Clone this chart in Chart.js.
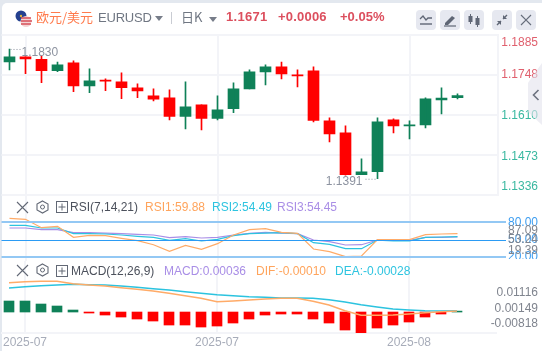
<!DOCTYPE html>
<html lang="zh">
<head>
  <meta charset="UTF-8" />
  <title>EURUSD</title>
  <script src="https://cdn.jsdelivr.net/npm/chart.js"></script>
  <style>
    html, body { margin: 0; padding: 0; background: #e3e8ef; }
    body { width: 542px; height: 351px; position: relative; overflow: hidden; font-family: "Liberation Sans", Arial, sans-serif; }
    #card { position: absolute; left: 2px; top: 3px; width: 540px; height: 348px; background: #fff; border-top-left-radius: 5px; }
    canvas { position: absolute; left: 0; display: block; }
    .t { position: absolute; white-space: nowrap; font-size: 12px; line-height: 14px; }
    .btn { position: absolute; top: 10px; width: 20px; height: 20px; border-radius: 4px; background: #e6e8f0; }
    .btn svg, .ic { position: absolute; }
    #tab { position: absolute; left: 528px; top: 63px; width: 14px; height: 62px; background: rgba(226,227,236,.6);
      clip-path: polygon(100% 0, 0 32%, 0 79%, 100% 100%); }
  </style>
</head>
<body>
  <div id="card"></div>
  <canvas id="mainChart" width="542" height="197" style="top:0"></canvas>
  <canvas id="rsiChart" width="542" height="66" style="top:195px"></canvas>
  <canvas id="macdChart" width="542" height="91" style="top:260px"></canvas>

  <!-- header -->
  <svg class="ic" style="left:15px;top:10px" width="18" height="18">
    <circle cx="6" cy="6" r="5.5" fill="#24408f"/>
    <circle cx="11" cy="11.5" r="5.5" fill="#f3d3d3"/>
    <path d="M6 8h10M6 11h11M6 14h10" stroke="#d8505a" stroke-width="1.3"/>
    <circle cx="6" cy="6" r="1.2" fill="#d9b53c"/>
  </svg>
  <div class="t" style="left:36px;top:9px;font:13px/16px 'Noto Sans CJK SC';color:#ff7b4d">欧元/美元</div>
  <div class="t" style="left:98px;top:11px;font-size:13px;color:#6f7682;letter-spacing:-.2px">EURUSD</div>
  <svg class="ic" style="left:155px;top:16px" width="8" height="5"><path d="M0 0h8L4 5z" fill="#777d89"/></svg>
  <div style="position:absolute;left:171px;top:12px;width:1px;height:12px;background:#c9ccd3"></div>
  <div class="t" style="left:181px;top:9px;font:13px/16px 'Noto Sans CJK SC';color:#6f7682">日K</div>
  <svg class="ic" style="left:209px;top:17px" width="8" height="5"><path d="M0 0h8L4 5z" fill="#777d89"/></svg>
  <div class="t" style="left:226px;top:10px;font-size:13px;font-weight:bold;color:#dc4f5e;letter-spacing:.3px">1.1671</div>
  <div class="t" style="left:278px;top:10px;font-size:13px;font-weight:bold;color:#dc4f5e;letter-spacing:.2px">+0.0006</div>
  <div class="t" style="left:340px;top:10px;font-size:13px;font-weight:bold;color:#dc4f5e">+0.05%</div>

  <div class="btn" style="left:416px"><svg width="20" height="20"><path d="M4 9l3-3 3 4 2-2h4" fill="none" stroke="#5f6675" stroke-width="1.3"/><path d="M4 14h12" stroke="#5f6675" stroke-width="1.4"/></svg></div>
  <div class="btn" style="left:440px"><svg width="20" height="20"><path d="M5 13l7-7 3 2-7 7H5z" fill="#5f6675"/><path d="M4 16h12" stroke="#5f6675" stroke-width="1.2"/></svg></div>
  <div class="btn" style="left:464px"><svg width="20" height="20"><path d="M6.5 4v10M13.5 6v11" stroke="#5f6675"/><rect x="4.5" y="6" width="4" height="6" fill="#5f6675"/><rect x="11.5" y="8" width="4" height="7" fill="#5f6675"/></svg></div>
  <div class="btn" style="left:492px"><svg width="20" height="20"><path d="M15 5l-4 4M5 15l4-4" stroke="#5f6675" stroke-width="1.4"/><path d="M11 5v4h4M5 11h4v4z" fill="#5f6675"/></svg></div>
  <div class="btn" style="left:516px"><svg width="20" height="20"><path d="M5 5l10 10M15 5L5 15" stroke="#666d7b" stroke-width="1.2"/></svg></div>

  <!-- RSI legend -->
  <svg class="ic" style="left:16px;top:201px" width="13" height="13"><path d="M1 1l11 11M12 1L1 12" stroke="#626875" stroke-width="1.1"/></svg>
  <svg class="ic" style="left:36px;top:200px" width="13" height="14"><path d="M6.5 1l5.5 3v6l-5.5 3L1 10V4z" fill="none" stroke="#626875" stroke-width="1.1"/><circle cx="6.5" cy="7" r="2" fill="none" stroke="#626875"/></svg>
  <svg class="ic" style="left:56px;top:201px" width="12" height="12"><rect x=".5" y=".5" width="11" height="11" fill="none" stroke="#626875"/><path d="M6 2.5v7M2.500 6h7" stroke="#626875"/></svg>
  <div class="t" style="left:70px;top:200px;color:#4c515c">RSI(7,14,21)</div>
  <div class="t" style="left:145px;top:200px;color:#ffa45c">RSI1:59.88</div>
  <div class="t" style="left:212px;top:200px;color:#2ec4e0">RSI2:54.49</div>
  <div class="t" style="left:277px;top:200px;color:#a98ee6">RSI3:54.45</div>

  <!-- MACD legend -->
  <svg class="ic" style="left:16px;top:264px" width="13" height="13"><path d="M1 1l11 11M12 1L1 12" stroke="#626875" stroke-width="1.1"/></svg>
  <svg class="ic" style="left:36px;top:263px" width="13" height="14"><path d="M6.5 1l5.5 3v6l-5.5 3L1 10V4z" fill="none" stroke="#626875" stroke-width="1.1"/><circle cx="6.5" cy="7" r="2" fill="none" stroke="#626875"/></svg>
  <svg class="ic" style="left:56px;top:265px" width="12" height="12"><rect x=".5" y=".5" width="11" height="11" fill="none" stroke="#626875"/><path d="M6 2.500v7M2.500 6h7" stroke="#626875"/></svg>
  <div class="t" style="left:71px;top:264px;color:#4c515c">MACD(12,26,9)</div>
  <div class="t" style="left:164px;top:264px;color:#a98ee6">MACD:0.00036</div>
  <div class="t" style="left:256px;top:264px;color:#ffa45c">DIF:-0.00010</div>
  <div class="t" style="left:335px;top:264px;color:#2ec4e0">DEA:-0.00028</div>

  <div id="tab"></div>
  <svg class="ic" style="left:532px;top:89px" width="8" height="12"><path d="M6.500 1L1.500 6l5 5" fill="none" stroke="#6d7380" stroke-width="1.6"/></svg>

  <script>
    // x positions: 29 days plus two empty slots on the right
    const dates = ['', '2025-07', '', '', '', '', '', '', '', '', '', '', '', '2025-07', '', '', '', '', '', '', '', '', '', '', '', '2025-08', '', '', '', '', ''];

    const opens = [1.17925, 1.18097, 1.18018, 1.17628, 1.17891, 1.17103, 1.17299, 1.1724, 1.17035, 1.16761, 1.16692, 1.16052, 1.16453, 1.15984, 1.16326, 1.17001, 1.17583, 1.17754, 1.1748, 1.17617, 1.15905, 1.15494, 1.14055, 1.14158, 1.15939, 1.15733, 1.15768, 1.16624, 1.16703];
    const closes = [1.18097, 1.18028, 1.17628, 1.17823, 1.17103, 1.17275, 1.17264, 1.17045, 1.16932, 1.16648, 1.16052, 1.16384, 1.15984, 1.16281, 1.17001, 1.17583, 1.17754, 1.17514, 1.17446, 1.15915, 1.15459, 1.14055, 1.14158, 1.1587, 1.15733, 1.15768, 1.16658, 1.16682, 1.16771];
    const highs = [1.18371, 1.18097, 1.18131, 1.17925, 1.1796, 1.17686, 1.17343, 1.17549, 1.17172, 1.17001, 1.16966, 1.1724, 1.16453, 1.16761, 1.17206, 1.17651, 1.17823, 1.17925, 1.17651, 1.17754, 1.16007, 1.15733, 1.14603, 1.16007, 1.15973, 1.15905, 1.16692, 1.17035, 1.16829];
    const lows = [1.17651, 1.17525, 1.17217, 1.17593, 1.16908, 1.16874, 1.16943, 1.16669, 1.16703, 1.1659, 1.15939, 1.15631, 1.15596, 1.15939, 1.16189, 1.17001, 1.17138, 1.17343, 1.17069, 1.1587, 1.15185, 1.14038, 1.14055, 1.13918, 1.15494, 1.15288, 1.15665, 1.16144, 1.16658];
    const priceTicks = [1.1885, 1.1748, 1.1610, 1.1473, 1.1336];
    const highLabel = '1.1830', lowLabel = '1.1391';

    const rsi1 = [86.9, 85.2, 70.8, 73.1, 54.0, 57.5, 56.9, 52.3, 48.3, 41.3, 29.8, 40.2, 33.3, 43.1, 58.1, 67.3, 69.0, 62.7, 61.0, 33.8, 29.2, 20.6, 21.7, 50.0, 50.0, 50.0, 58.7, 59.8, 60.5];
    const rsi2 = [74.8, 74.8, 70.2, 70.2, 60.4, 60.4, 59.8, 58.1, 55.8, 54.0, 48.8, 51.7, 47.7, 50.6, 56.9, 60.4, 61.5, 62.1, 60.4, 44.8, 41.9, 34.4, 34.4, 49.4, 47.7, 47.7, 54.0, 54.6, 55.2];
    const rsi3 = [70.2, 70.2, 67.3, 67.3, 62.1, 62.1, 61.5, 60.4, 59.2, 58.1, 53.5, 55.2, 52.9, 54.0, 58.1, 61.0, 62.7, 61.5, 60.4, 49.4, 46.5, 40.8, 41.3, 49.4, 48.8, 48.8, 54.0, 54.0, 54.6];
    const rsiLevels = [80, 50, 20];
    const rsiTicks = [87.09, 53.24, 19.39];

    const macdHist = [0.00429, 0.00429, 0.00312, 0.00234, 0.00078, -0.00039, -0.00117, -0.00195, -0.00273, -0.00351, -0.00507, -0.00507, -0.00585, -0.00546, -0.00429, -0.00273, -0.00117, -0.00078, -0.00078, -0.00273, -0.00429, -0.00702, -0.00818, -0.00624, -0.00507, -0.0039, -0.00195, -0.00078, 0.00036];
    const dif = [0.01143, 0.01182, 0.01197, 0.01197, 0.01104, 0.01053, 0.01014, 0.00948, 0.00885, 0.00819, 0.00729, 0.00636, 0.00534, 0.00402, 0.00429, 0.00468, 0.00507, 0.00534, 0.00534, 0.00417, 0.00273, 0.00051, -0.00129, -0.00129, -0.00117, -0.00078, -0.00027, 0.00012, 0.00039];
    const dea = [0.00936, 0.00987, 0.01026, 0.01053, 0.0108, 0.01065, 0.01053, 0.01014, 0.00963, 0.00909, 0.00858, 0.00792, 0.00729, 0.00675, 0.00636, 0.00597, 0.00573, 0.00546, 0.00546, 0.00534, 0.0048, 0.0039, 0.00285, 0.00195, 0.00117, 0.00078, 0.00051, 0.00039, 0.00051];
    const macdTicks = [0.01116, 0.00149, -0.00818];

    const UP = '#0f8158', DOWN = '#ff0000', GRID = '#f3f4f8', FONT = '12px "Liberation Sans", Arial, sans-serif';
    const ORANGE = '#ffab68', CYAN = '#2cc3df', PURPLE = '#a98ee6';
    const candleColor = closes.map((c, i) => c >= opens[i] ? UP : DOWN);

    // right hand labels; they get pushed inward near the pane edges so a scale tick can't do it
    const axisLabels = {
      id: 'axisLabels',
      afterDraw(chart, args, opts) {
        const { ctx, scales: { y } } = chart;
        ctx.save();
        ctx.font = FONT;
        ctx.textAlign = 'right';
        ctx.textBaseline = 'middle';
        opts.values.forEach((v, i) => {
          ctx.fillStyle = typeof opts.color === 'function' ? opts.color(v) : opts.color;
          ctx.fillText(v.toFixed(opts.digits), 538, y.getPixelForValue(v) + opts.shift[i]);
        });
        ctx.restore();
      }
    };

    // highest / lowest price tags
    const extremes = {
      id: 'extremes',
      afterDatasetsDraw(chart) {
        const { ctx, scales: { x, y } } = chart;
        const hi = highs.indexOf(Math.max(...highs)), lo = lows.indexOf(Math.min(...lows));
        const hx = x.getPixelForValue(hi), hy = y.getPixelForValue(highs[hi]);
        const lx = x.getPixelForValue(lo), ly = y.getPixelForValue(lows[lo]);
        ctx.save();
        ctx.font = FONT;
        ctx.fillStyle = '#8d93a0';
        ctx.textBaseline = 'middle';
        ctx.textAlign = 'left';
        ctx.fillText(highLabel, hx + 12, hy + 4);
        ctx.textAlign = 'right';
        ctx.fillText(lowLabel, lx - 15, ly + 3);
        ctx.strokeStyle = '#8d93a0';
        ctx.setLineDash([1, 2]);
        ctx.beginPath();
        ctx.moveTo(hx + 1, hy + .5); ctx.lineTo(hx + 11, hy + .5);
        ctx.moveTo(lx - 12, ly + .5); ctx.lineTo(lx, ly + .5);
        ctx.stroke();
        ctx.restore();
      }
    };

    // the 80/50/20 guides of the RSI pane run past the plot area
    const rsiGuides = {
      id: 'rsiGuides',
      afterDraw(chart) {
        const { ctx, chartArea, scales: { y } } = chart;
        ctx.save();
        rsiLevels.forEach(v => {
          const py = Math.round(y.getPixelForValue(v));
          ctx.strokeStyle = v === 50 ? '#2b9bf4' : '#93c8f4';
          ctx.lineWidth = v === 50 ? 1 : 2;
          ctx.beginPath();
          ctx.moveTo(chartArea.left, py + (v === 50 ? .5 : 0));
          ctx.lineTo(506, py + (v === 50 ? .5 : 0));
          ctx.stroke();
        });
        ctx.beginPath();
        ctx.rect(500, 0, 42, 64);
        ctx.clip();
        ctx.font = FONT;
        ctx.textAlign = 'right';
        ctx.textBaseline = 'middle';
        ctx.fillStyle = '#3d9df0';
        rsiLevels.forEach(v => ctx.fillText(v.toFixed(2), 538, y.getPixelForValue(v)));
        ctx.restore();
      }
    };

    function baseOptions(left, top, bottom, yMin, yMax, yTicks, showBorder, labelOpts, xLabels) {
      return {
        responsive: false,
        animation: false,
        events: [],
        layout: { padding: { left: left, right: 46 - left, top: top, bottom: bottom } },
        plugins: { legend: { display: false }, tooltip: { enabled: false }, axisLabels: labelOpts },
        scales: {
          x: {
            offset: true,
            afterFit(s) { s.height = xLabels ? 18 : 0; },
            grid: {
              offset: false,
              lineWidth: 2,
              drawTicks: false,
              color: ctx => ctx.tick && ctx.tick.label ? GRID : 'transparent'
            },
            border: { display: false },
            ticks: {
              display: xLabels,
              autoSkip: false,
              maxRotation: 0,
              padding: 2,
              color: '#a7acb9',
              font: { family: '"Liberation Sans", Arial, sans-serif', size: 12 }
            }
          },
          y: {
            position: 'right',
            min: yMin,
            max: yMax,
            afterFit(s) { s.width = 0; },
            afterBuildTicks(s) { s.ticks = yTicks.map(v => ({ value: v })); },
            grid: { lineWidth: 2, color: GRID, drawTicks: false },
            border: { display: showBorder, color: GRID, width: 2 },
            ticks: { display: false }
          }
        }
      };
    }

    new Chart(document.getElementById('mainChart'), {
      type: 'bar',
      data: {
        labels: dates,
        datasets: [
          { data: highs.map((h, i) => [lows[i], h]), backgroundColor: candleColor, barThickness: 1, grouped: false },
          { data: opens.map((o, i) => [o, closes[i]]), backgroundColor: candleColor, barThickness: 11, grouped: false }
        ]
      },
      options: baseOptions(1.5, 35, 2, 1.1336, 1.1885, priceTicks, true,
        { values: priceTicks, digits: 4, shift: [8, 0, 1, 2, -8], color: v => v > 1.1671 ? '#e0606e' : '#3ab8a0' }, false),
      plugins: [axisLabels, extremes]
    });

    new Chart(document.getElementById('rsiChart'), {
      type: 'line',
      data: {
        labels: dates,
        datasets: [
          { data: rsi1, borderColor: ORANGE, borderWidth: 1.2, pointRadius: 0 },
          { data: rsi2, borderColor: CYAN, borderWidth: 1.2, pointRadius: 0 },
          { data: rsi3, borderColor: PURPLE, borderWidth: 1.2, pointRadius: 0 }
        ]
      },
      options: baseOptions(1.5, 1, 0, 13.1, 125.6, [], false,
        { values: rsiTicks, digits: 2, shift: [12, 2, -7], color: '#80858f' }, false),
      plugins: [rsiGuides, axisLabels]
    });

    new Chart(document.getElementById('macdChart'), {
      type: 'bar',
      data: {
        labels: dates,
        datasets: [
          { type: 'line', data: dif, borderColor: ORANGE, borderWidth: 1.5, pointRadius: 0 },
          { type: 'line', data: dea, borderColor: CYAN, borderWidth: 1.5, pointRadius: 0 },
          { data: macdHist, backgroundColor: macdHist.map(v => v >= 0 ? UP : DOWN), barThickness: 10 }
        ]
      },
      options: baseOptions(1, 1, 0, -0.00818, 0.01989, [-0.00818], false,
        { values: macdTicks, digits: 5, shift: [9, 0, -9], color: '#80858f' }, true),
      plugins: [axisLabels]
    });
  </script>
</body>
</html>
